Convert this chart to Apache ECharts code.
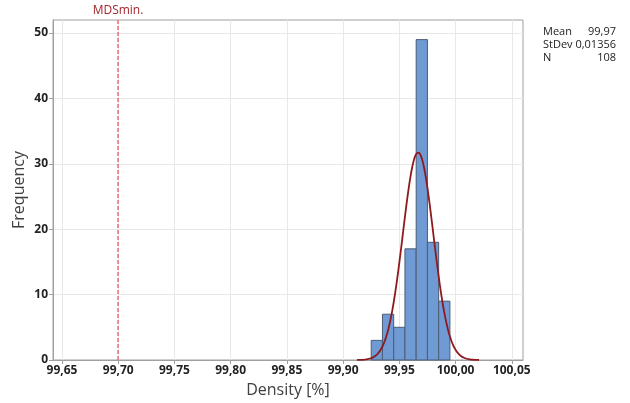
<!DOCTYPE html>
<html><head><meta charset="utf-8">
<script src="https://cdn.jsdelivr.net/npm/echarts@6/dist/echarts.min.js"></script>
<style>html,body{margin:0;padding:0;background:#fff}#c{width:630px;height:403px}</style>
</head><body><div id="c"></div>
<script>
// Data
const binStarts = [99.925, 99.935, 99.945, 99.955, 99.965, 99.975, 99.985];
const binWidth = 0.01;
const counts = [3, 7, 5, 17, 49, 18, 9];
const xTicks = [99.65, 99.70, 99.75, 99.80, 99.85, 99.90, 99.95, 100.00, 100.05];
const yTicks = [0, 10, 20, 30, 40, 50];
const yMax = 52;
const fitMean = 99.9667;
const fitStDev = 0.01356;
const nObs = 108;
const mdsMin = 99.70;
const mdsLabel = 'MDSmin.';
const statLabels = ['Mean', 'StDev', 'N'];
const statValues = ['99,97', '0,01356', '108'];

// fitted normal curve (scaled to histogram)
const curve = [];
for (let i = 0; i <= 160; i++) {
  const x = fitMean - 4 * fitStDev + i * (8 * fitStDev / 160);
  const z = (x - fitMean) / fitStDev;
  const y = nObs * binWidth * Math.exp(-0.5 * z * z) / (fitStDev * Math.sqrt(2 * Math.PI));
  curve.push([x, y]);
}
const bars = binStarts.map((s, i) => [s, s + binWidth, counts[i]]);

const FONT = '"Open Sans", "Noto Sans", sans-serif';
const chart = echarts.init(document.getElementById('c'), null, {renderer: 'canvas'});
chart.setOption({
  backgroundColor: '#fff',
  animation: false,
  grid: {left: 53, right: 107, top: 20, bottom: 42, show: true, borderColor: '#a0a0a0', borderWidth: 1, backgroundColor: '#fff'},
  xAxis: {
    type: 'value', min: 99.642, max: 100.06,
    name: 'Density [%]', nameLocation: 'middle', nameGap: 22,
    nameTextStyle: {fontSize: 16, color: '#404040', fontFamily: FONT},
    axisLine: {show: true, lineStyle: {color: '#a0a0a0'}},
    axisTick: {show: true, customValues: xTicks, length: 4, lineStyle: {color: '#a0a0a0'}},
    axisLabel: {customValues: xTicks, fontSize: 12, color: '#222', fontFamily: FONT, fontWeight: 'bold', margin: 5,
      formatter: v => v.toFixed(2).replace('.', ',')},
    splitLine: {show: true, lineStyle: {color: '#e8e8e8'}}
  },
  yAxis: {
    type: 'value', min: 0, max: yMax,
    name: 'Frequency', nameLocation: 'middle', nameGap: 26, nameMoveOverlap: false,
    nameTextStyle: {fontSize: 16, color: '#404040', fontFamily: FONT},
    axisLine: {show: true, lineStyle: {color: '#a0a0a0'}},
    axisTick: {show: true, customValues: yTicks, length: 4, lineStyle: {color: '#a0a0a0'}},
    axisLabel: {customValues: yTicks, fontSize: 12, color: '#222', fontFamily: FONT, fontWeight: 'bold', margin: 5},
    splitLine: {show: true, lineStyle: {color: '#e8e8e8'}}
  },
  series: [
    {
      type: 'custom',
      data: [[mdsMin, yMax]],
      z: 1,
      clip: false,
      renderItem: (params, api) => {
        const b = api.coord([api.value(0), 0]);
        const t = api.coord([api.value(0), api.value(1)]);
        const x = Math.round(b[0]);
        return {type: 'group', children: [
          {type: 'line', shape: {x1: x, y1: b[1], x2: x, y2: t[1]},
            style: {stroke: '#ee4a55', lineWidth: 1.2, lineDash: [4, 2]}},
          {type: 'text', style: {text: mdsLabel, x: x, y: t[1] - 3, align: 'center', verticalAlign: 'bottom',
            fill: '#a3262d', font: '12px ' + FONT}}
        ]};
      },
      encode: {x: 0, y: 1}
    },
    {
      type: 'custom',
      data: bars,
      renderItem: (params, api) => {
        const p0 = api.coord([api.value(0), 0]);
        const p1 = api.coord([api.value(1), api.value(2)]);
        return {type: 'rect', shape: {x: p0[0], y: p1[1], width: p1[0] - p0[0], height: p0[1] - p1[1]},
          style: {fill: '#6f9ad3', stroke: '#4b5d75', lineWidth: 1}};
      },
      encode: {x: [0, 1], y: 2},
      z: 2
    },
    {
      type: 'line', data: curve, showSymbol: false, smooth: false,
      lineStyle: {color: '#8e1a1f', width: 1.8}, z: 3
    }
  ],
  graphic: statLabels.flatMap((l, i) => [
    {type: 'text', left: 543, top: 26 + i * 13, style: {text: l, fill: '#222', font: '11px ' + FONT}},
    {type: 'text', right: 14, top: 26 + i * 13, style: {text: statValues[i], fill: '#222', font: '11px ' + FONT, align: 'right'}}
  ])
});
</script></body></html>
